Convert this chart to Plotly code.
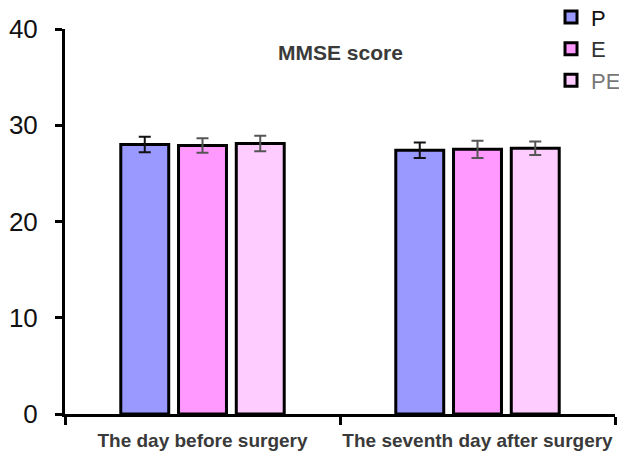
import plotly.graph_objects as go

# MMSE scores (mean ± SD) by time point and group
timepoints = ["The day before surgery", "The seventh day after surgery"]
groups = ["P", "E", "PE"]
means = {
    "P": [28.0, 27.4],
    "E": [27.9, 27.5],
    "PE": [28.1, 27.6],
}
errors = {
    "P": [0.8, 0.8],
    "E": [0.75, 0.9],
    "PE": [0.8, 0.7],
}
fill_colors = {"P": "#9999ff", "E": "#ff99ff", "PE": "#ffccff"}
error_colors = {"P": "#111111", "E": "#555555", "PE": "#555555"}
legend_text_colors = {"P": "#111111", "E": "#333333", "PE": "#777777"}

fig = go.Figure()
for g in groups:
    fig.add_trace(go.Bar(
        x=timepoints,
        y=means[g],
        name=f"<span style='color:{legend_text_colors[g]}'>{g}</span>",
        marker=dict(color=fill_colors[g], line=dict(color="black", width=3)),
        error_y=dict(type="data", array=errors[g], visible=True,
                     color=error_colors[g], thickness=2, width=6),
    ))

fig.update_layout(
    width=619, height=455,
    margin=dict(l=65, r=4, t=29, b=41, autoexpand=False),
    paper_bgcolor="white", plot_bgcolor="white",
    barmode="group", bargap=0.37, bargroupgap=0.17,
    font=dict(family="Liberation Sans, Arial, sans-serif", color="#222"),
    showlegend=True,
    legend=dict(x=1.02, y=1.085, xanchor="right", yanchor="top",
                font=dict(size=22), tracegroupgap=0,
                bgcolor="rgba(0,0,0,0)"),
    annotations=[dict(
        text="<b>MMSE score</b>", x=0.5, y=0.975, xref="paper", yref="paper",
        showarrow=False, font=dict(size=21, color="#3a3a3a"),
    )],
)

fig.update_xaxes(
    showline=True, linecolor="black", linewidth=3,
    ticks="outside", tickson="boundaries", ticklen=8, tickwidth=3,
    tickcolor="black", ticklabelstandoff=7, tickangle=0,
    tickfont=dict(size=19, color="#3a3a3a", family="Liberation Sans, Arial, sans-serif"),
    tickprefix="<b>", ticksuffix="</b>",
)
fig.update_yaxes(
    range=[0, 40], dtick=10,
    showline=True, linecolor="black", linewidth=3,
    ticks="outside", ticklen=7, tickwidth=3, tickcolor="black",
    showgrid=False, zeroline=False, ticklabelstandoff=12,
    tickfont=dict(size=26, color="#111111"),
)

fig.write_html("out.html")
